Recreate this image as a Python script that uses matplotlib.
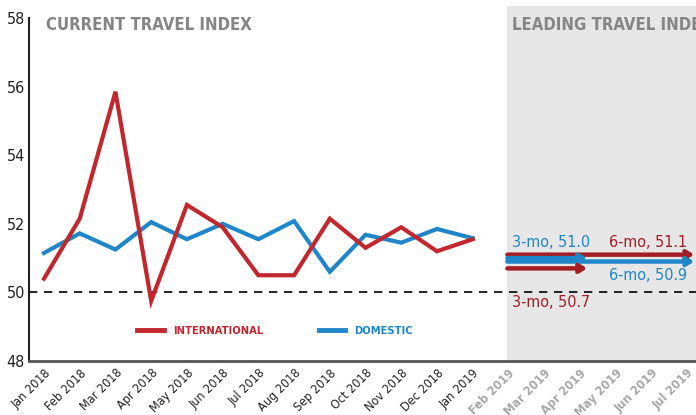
import matplotlib
matplotlib.use("Agg")
import matplotlib.pyplot as plt
from matplotlib.lines import Line2D

months = ["Jan 2018", "Feb 2018", "Mar 2018", "Apr 2018", "May 2018", "Jun 2018",
          "Jul 2018", "Aug 2018", "Sep 2018", "Oct 2018", "Nov 2018", "Dec 2018",
          "Jan 2019", "Feb 2019", "Mar 2019", "Apr 2019", "May 2019", "Jun 2019",
          "Jul 2019"]
n_actual = 13
international = [50.4, 52.15, 55.85, 49.75, 52.55, 51.9, 50.5, 50.5, 52.15, 51.3, 51.9, 51.2, 51.55]
domestic = [51.15, 51.72, 51.25, 52.05, 51.55, 52.0, 51.55, 52.08, 50.6, 51.68, 51.45, 51.85, 51.58]

intl_3mo = 50.7
intl_6mo = 51.1
dom_3mo = 51.0
dom_6mo = 50.9

RED = "#c1272d"
RED_F = "#a51d24"
BLUE = "#1f87c9"
GRAY_T = "#858585"

plt.rcParams['font.family'] = ['DejaVu Sans']
plt.rcParams['font.stretch'] = 'condensed'

fig = plt.figure(figsize=(6.96, 4.15), dpi=100)
ax = fig.add_axes([29/696, 1-361/415, 1-29/696, (361-6)/415])
ax.set_xlim(-0.42, 18.25)
ax.set_ylim(48, 58.35)

x_act = list(range(n_actual))
start = n_actual - 0.03
end3 = n_actual + 2
end6 = len(months) - 1

ax.axvspan(start, 19, color="#e6e6e6", zorder=0, lw=0)
ax.axhline(50, color="black", lw=1.2, dashes=(5, 4), zorder=1)

ax.plot(x_act, international, color=RED, lw=3, zorder=3, solid_joinstyle='miter')
ax.plot(x_act, domestic, color=BLUE, lw=3, zorder=2, solid_joinstyle='miter')

def arrow(v, x1, color, z):
    ax.annotate('', xy=(x1 + 0.2, v), xytext=(start, v),
                arrowprops=dict(arrowstyle='->,head_length=0.4,head_width=0.25',
                                color=color, lw=3.2, shrinkA=0, shrinkB=0),
                zorder=z)

arrow(intl_6mo, end6, RED_F, 4)
arrow(dom_6mo, end6, BLUE, 5)
arrow(dom_3mo, end3, BLUE, 6)
arrow(intl_3mo, end3, RED_F, 6)

fs_f = 11.5
ax.text(13.1, 51.25, f"3-mo, {dom_3mo:.1f}", color=BLUE, fontsize=fs_f, ha='left', va='bottom')
ax.text(18.0, 51.25, f"6-mo, {intl_6mo:.1f}", color=RED_F, fontsize=fs_f, ha='right', va='bottom')
ax.text(18.0, 50.72, f"6-mo, {dom_6mo:.1f}", color=BLUE, fontsize=fs_f, ha='right', va='top')
ax.text(13.1, 50.0 - 0.08, f"3-mo, {intl_3mo:.1f}", color=RED_F, fontsize=fs_f, ha='left', va='top')

ax.text(0.05, 57.8, "CURRENT TRAVEL INDEX", color=GRAY_T, fontsize=12, fontweight='bold', va='center')
ax.text(13.1, 57.8, "LEADING TRAVEL INDEX", color=GRAY_T, fontsize=12, fontweight='bold', va='center')

ax.set_yticks(range(48, 59, 2))
ax.set_yticklabels([str(v) for v in range(48, 59, 2)], fontsize=11.5, color="#222222")
ax.set_xticks(range(len(months)))
ax.set_xticklabels(months, rotation=45, ha='right', rotation_mode='anchor', fontsize=9)
for i, lab in enumerate(ax.get_xticklabels()):
    if i >= n_actual:
        lab.set_color("#a8a8a8")
        lab.set_fontweight('bold')
    else:
        lab.set_color("#222222")
ax.tick_params(axis='x', length=0, pad=4)
ax.tick_params(axis='y', length=0, pad=3)

for s in ["top", "right"]:
    ax.spines[s].set_visible(False)
ax.spines["left"].set_bounds(48, 58)
ax.spines["left"].set_color("#222222")
ax.spines["left"].set_linewidth(1.5)
ax.spines["bottom"].set_color("#555555")
ax.spines["bottom"].set_linewidth(2)

handles = [Line2D([0], [0], color=RED, lw=3.5), Line2D([0], [0], color=BLUE, lw=3.5)]
leg = ax.legend(handles, ["INTERNATIONAL", "DOMESTIC"], ncol=2, frameon=False,
                loc='center', bbox_to_anchor=(246/667, 1-(331-6)/355),
                handlelength=2.4, columnspacing=5.0, handletextpad=0.8,
                prop={'size': 8, 'weight': 'bold', 'stretch': 'condensed'})
for t, c in zip(leg.get_texts(), [RED, BLUE]):
    t.set_color(c)

fig.savefig("out.png", dpi=100)
